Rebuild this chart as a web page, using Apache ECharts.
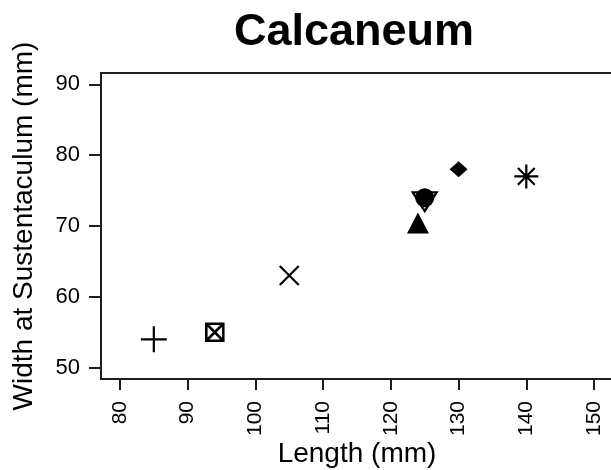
<!DOCTYPE html>
<html>
<head>
<meta charset="utf-8">
<script src="https://cdn.jsdelivr.net/npm/echarts@6/dist/echarts.min.js"></script>
<style>
  html, body { margin: 0; padding: 0; background: #fff; }
  #chart { width: 611px; height: 470px; }
</style>
</head>
<body>
<div id="chart"></div>
<script>
// Calcaneum measurements: length vs. width at sustentaculum (mm)
const lengths = [85, 94, 105, 124, 125, 130, 140];
const widths  = [54, 55, 63, 70, 74, 78, 77];
const xTicks = [80, 90, 100, 110, 120, 130, 140, 150];
const yTicks = [50, 60, 70, 80, 90];

const INK = '#000';
const FRAME = '#1e1e1e';
const FONT = '"Liberation Sans", Arial, sans-serif';

// symbol paths
const PLUS = 'path://M0,10 L20,10 M10,0 L10,20';
const CROSS = 'path://M0,0 L20,20 M20,0 L0,20';
const BOXX = 'path://M0,0 L20,0 L20,20 L0,20 Z M0,0 L20,20 M20,0 L0,20';
const TRI_UP = 'path://M10,0 L20,15 L0,15 Z';
const TRI_DOWN = 'path://M0,0 L20,0 L10,15 Z';
const DIAMOND = 'path://M10,0 L20,10 L10,20 L0,10 Z';
const STAR = 'path://M0,10 L20,10 M10,0 L10,20 M3,3 L17,17 M17,3 L3,17';

function pt(i) { return [[lengths[i], widths[i]]]; }

function strokeSeries(i, symbol, size, width, offset) {
  return {
    type: 'scatter', data: pt(i), symbol: symbol, symbolSize: size,
    symbolOffset: offset || [0, 0],
    itemStyle: { color: 'none', borderColor: INK, borderWidth: width, opacity: 1 },
    emphasis: { disabled: true }, z: 3
  };
}
function fillSeries(i, symbol, size, offset) {
  return {
    type: 'scatter', data: pt(i), symbol: symbol, symbolSize: size,
    symbolOffset: offset || [0, 0],
    itemStyle: { color: INK, borderWidth: 0, opacity: 1 },
    emphasis: { disabled: true }, z: 2
  };
}

const chart = echarts.init(document.getElementById('chart'));
chart.setOption({
  animation: false,
  backgroundColor: '#fff',
  title: {
    text: 'Calcaneum',
    left: 234,
    top: 10,
    padding: 0,
    textStyle: { fontFamily: FONT, fontWeight: 'bold', fontSize: 45, color: '#000' }
  },
  grid: {
    left: 101, top: 73, width: 512, height: 306,
    outerBoundsMode: 'none', containLabel: false,
    show: true, borderColor: FRAME, borderWidth: 2, backgroundColor: 'transparent'
  },
  xAxis: {
    type: 'value', min: 77.2, max: 152.8,
    name: 'Length (mm)', nameLocation: 'middle', nameGap: 61, nameMoveOverlap: false,
    nameTextStyle: { fontFamily: FONT, fontSize: 28, color: '#000' },
    axisLine: { show: false },
    splitLine: { show: false },
    axisTick: { show: true, customValues: xTicks, length: 11, lineStyle: { color: FRAME, width: 2 } },
    axisLabel: { customValues: xTicks, rotate: 90, margin: 22, fontFamily: FONT, fontSize: 21, color: '#000' }
  },
  yAxis: {
    type: 'value', min: 48.4, max: 91.6,
    name: 'Width at Sustentaculum (mm)', nameLocation: 'middle', nameGap: 63, nameRotate: 90, nameMoveOverlap: false,
    nameTextStyle: { fontFamily: FONT, fontSize: 28, color: '#000' },
    axisLine: { show: false },
    splitLine: { show: false },
    axisTick: { show: true, customValues: yTicks, length: 12, lineStyle: { color: FRAME, width: 2 } },
    axisLabel: { customValues: yTicks, margin: 21, fontFamily: FONT, fontSize: 22, color: '#000' }
  },
  series: [
    strokeSeries(0, PLUS, 26, 2.2),
    strokeSeries(1, BOXX, 17, 2.6),
    strokeSeries(2, CROSS, 19, 2.2),
    fillSeries(3, TRI_UP, [22, 21], [0, -3]),
    fillSeries(4, 'circle', 19),
    strokeSeries(4, TRI_DOWN, [24, 19], 2.2, [0, 4]),
    fillSeries(5, DIAMOND, [18, 16]),
    strokeSeries(6, STAR, 24, 2.2)
  ]
});
</script>
</body>
</html>
